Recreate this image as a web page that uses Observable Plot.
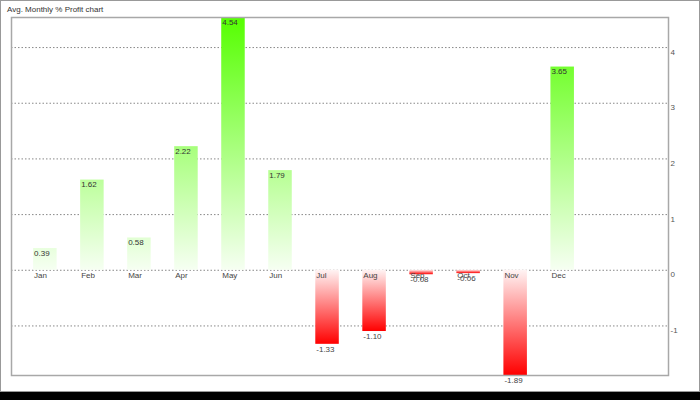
<!DOCTYPE html>
<html>
<head>
<meta charset="utf-8">
<script src="https://cdn.jsdelivr.net/npm/d3@7"></script>
<script src="https://cdn.jsdelivr.net/npm/@observablehq/plot@0.6"></script>
<style>
  html, body { margin: 0; padding: 0; width: 700px; height: 400px; background: #000; overflow: hidden; }
  #box { position: absolute; left: 0; top: 0; width: 700px; height: 392px; box-sizing: border-box;
         border: 1px solid #999; background: #fff; }
  #title { position: absolute; left: 7px; top: 5px; font: 8px "Liberation Sans", Arial, sans-serif;
           line-height: 10px; color: #333; white-space: nowrap; }
  #chart { position: absolute; left: 0; top: 16px; }
</style>
</head>
<body>
<div id="box"></div>
<div id="title">Avg. Monthly % Profit chart</div>
<div id="chart"></div>
<script>
const months = ["Jan","Feb","Mar","Apr","May","Jun","Jul","Aug","Sep","Oct","Nov","Dec"];
const profits = [0.39, 1.62, 0.58, 2.22, 4.54, 1.79, -1.33, -1.10, -0.08, -0.06, -1.89, 3.65];
const yTicks = [-1, 0, 1, 2, 3, 4];

const rows = months.map((m, i) => ({month: m, i, v: profits[i]}));
const pos = rows.filter(d => d.v >= 0);
const neg = rows.filter(d => d.v < 0);
const font = "Liberation Sans, Arial, sans-serif";

const chart = Plot.plot({
  width: 700,
  height: 376,
  marginTop: 1,
  marginBottom: 17,
  marginLeft: 11,
  marginRight: 32,
  style: {background: "transparent", fontFamily: font, overflow: "visible"},
  x: {type: "linear", domain: [-0.47, 13.5], axis: null},
  y: {domain: d3.extent(profits), axis: null},
  marks: [
    Plot.ruleY(yTicks, {stroke: "#888", strokeDasharray: "1.5,2", strokeWidth: 1}),
    Plot.rect(pos, {x1: "i", x2: d => d.i + 0.5, y1: 0, y2: "v", fill: "url(#gGreen)", inset: 0}),
    Plot.rect(neg, {x1: "i", x2: d => d.i + 0.5, y1: 0, y2: "v", fill: "url(#gRed)", inset: 0}),
    Plot.text(rows, {x: "i", y: 0, text: "month", textAnchor: "start", dx: 0.5, dy: 5,
                     fontSize: 8, fill: "#444"}),
    Plot.text(pos, {x: "i", y: "v", text: d => d.v.toFixed(2), textAnchor: "start", dx: 0.5, dy: 4.5,
                    fontSize: 8, fill: "#333"}),
    Plot.text(neg, {x: "i", y: "v", text: d => d.v.toFixed(2), textAnchor: "start", dx: 0.5, dy: 5,
                    fontSize: 8, fill: "#444"}),
    Plot.frame({stroke: "#a8a8a8", strokeWidth: 1.5}),
    Plot.axisY(yTicks, {anchor: "right", tickSize: 0, tickPadding: 2, dy: 4.5, fontSize: 8,
                        fill: "#555", tickFormat: d => String(d), label: null})
  ]
});

const ys = chart.scale("y");
const ns = "http://www.w3.org/2000/svg";
const defs = document.createElementNS(ns, "defs");
function grad(id, attrs, stops) {
  const g = document.createElementNS(ns, "linearGradient");
  g.setAttribute("id", id);
  for (const k in attrs) g.setAttribute(k, attrs[k]);
  for (const [o, c] of stops) {
    const s = document.createElementNS(ns, "stop");
    s.setAttribute("offset", o);
    s.setAttribute("stop-color", c);
    g.appendChild(s);
  }
  defs.appendChild(g);
}
grad("gGreen", {gradientUnits: "userSpaceOnUse", x1: 0, x2: 0,
                y1: ys.apply(0), y2: ys.apply(d3.max(profits))},
     [[0, "#f6fff2"], [1, "#55ff00"]]);
grad("gRed", {x1: 0, y1: 0, x2: 0, y2: 1},
     [[0, "#fff4f4"], [1, "#ff0000"]]);
chart.insertBefore(defs, chart.firstChild);

document.getElementById("chart").appendChild(chart);
</script>
</body>
</html>
